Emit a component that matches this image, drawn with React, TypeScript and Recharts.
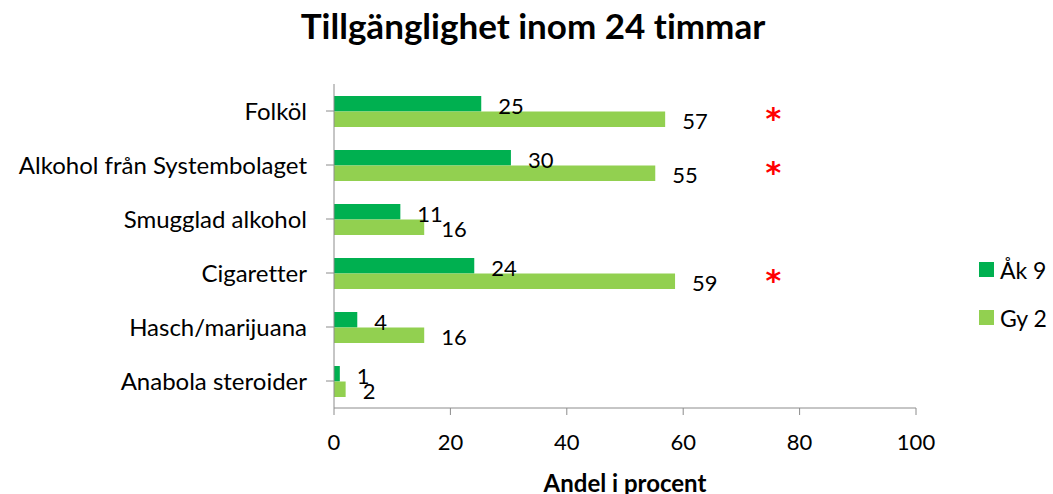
import React from 'react';
import { BarChart, Bar, XAxis, YAxis, LabelList, ReferenceDot, Label } from 'recharts';

const categories = [
  'Folköl',
  'Alkohol från Systembolaget',
  'Smugglad alkohol',
  'Cigaretter',
  'Hasch/marijuana',
  'Anabola steroider',
];
const ak9 = [25.3, 30.4, 11.4, 24.1, 4.0, 1.0];
const gy2 = [56.9, 55.2, 15.5, 58.6, 15.5, 2.0];
const xTicks = [0, 20, 40, 60, 80, 100];
// categories with a significant difference, marked with a red star
const significant = ['Folköl', 'Alkohol från Systembolaget', 'Cigaretter'];
const starValue = 75.5;

const series = [
  { key: 'ak9', label: 'Åk 9', color: '#00b050' },
  { key: 'gy2', label: 'Gy 2', color: '#92d050' },
];

const data = categories.map((name, i) => ({ name, ak9: ak9[i], gy2: gy2[i] }));

const FONT = 'Lato, "Open Sans", sans-serif';
const AXIS = '#8c8c8c';

const Star = (props: any) => {
  const { cx, cy } = props;
  return (
    <text
      x={cx}
      y={cy + 18}
      textAnchor="middle"
      fontSize={30}
      fontWeight="bold"
      fill="#ff0000"
      fontFamily='"DejaVu Sans", sans-serif'
    >
      *
    </text>
  );
};

export default function App() {
  return (
    <div
      style={{
        position: 'fixed',
        left: 0,
        top: 0,
        width: 1053,
        height: 494,
        background: '#fff',
        fontFamily: FONT,
        fontVariantLigatures: 'none',
      }}
    >
      <div
        style={{
          position: 'absolute',
          left: 0,
          top: 4,
          width: 1066,
          textAlign: 'center',
          fontSize: 35,
          fontWeight: 'bold',
          color: '#000',
        }}
      >
        Tillgänglighet inom 24 timmar
      </div>
      <BarChart
        width={1053}
        height={494}
        data={data}
        layout="vertical"
        margin={{ top: 84, right: 137, bottom: 0, left: 0 }}
        barGap={0}
        barSize={15.5}
      >
        <XAxis
          type="number"
          domain={[0, 100]}
          ticks={xTicks}
          height={86}
          axisLine={{ stroke: AXIS }}
          tickLine={{ stroke: AXIS }}
          tickSize={7}
          tickMargin={19}
          tick={{ fill: '#000', fontSize: 22, fontFamily: FONT }}
        >
          <Label
            value="Andel i procent"
            position="insideBottom"
            offset={2}
            style={{ fontSize: 24, fontWeight: 'bold', fill: '#000', fontFamily: FONT }}
          />
        </XAxis>
        <YAxis
          type="category"
          dataKey="name"
          width={334}
          axisLine={{ stroke: AXIS }}
          tickLine={{ stroke: AXIS }}
          tickSize={8}
          tickMargin={19}
          tick={{ fill: '#000', fontSize: 24, fontFamily: FONT }}
          interval={0}
        />
        {series.map((s) => (
          <Bar key={s.key} dataKey={s.key} name={s.label} fill={s.color} isAnimationActive={false}>
            <LabelList
              dataKey={s.key}
              position="right"
              offset={17}
              formatter={(v: any) => Math.round(Number(v))}
              style={{ fill: '#000', fontSize: 22, fontFamily: FONT }}
              dy={2}
            />
          </Bar>
        ))}
        {significant.map((c) => (
          <ReferenceDot key={c} x={starValue} y={c} r={0} shape={Star} ifOverflow="visible" />
        ))}
      </BarChart>
      <div style={{ position: 'absolute', left: 979, top: 257, fontSize: 23, color: '#000' }}>
        {series.map((s, i) => (
          <div key={s.key} style={{ display: 'flex', alignItems: 'center', height: 25, marginTop: i ? 23 : 0 }}>
            <span style={{ width: 15, height: 15, background: s.color, display: 'inline-block', marginRight: 6 }} />
            <span>{s.label}</span>
          </div>
        ))}
      </div>
    </div>
  );
}
